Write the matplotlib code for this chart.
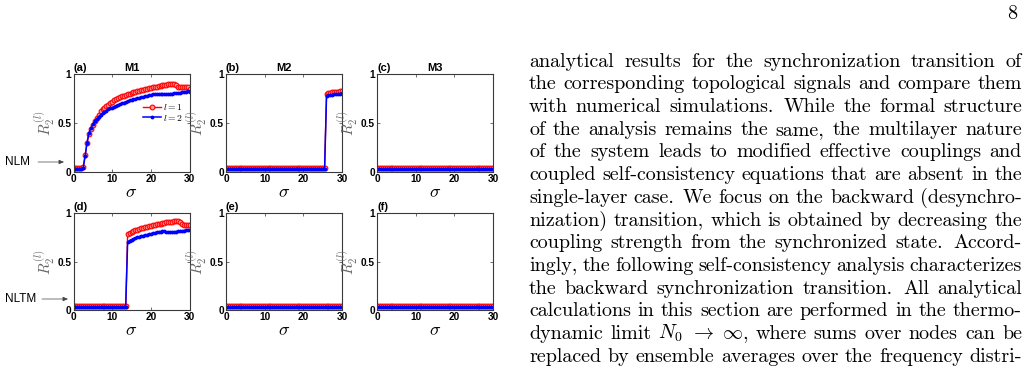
import numpy as np
import matplotlib
matplotlib.use('Agg')
import matplotlib.pyplot as plt

plt.rcParams['mathtext.fontset'] = 'cm'
plt.rcParams['font.family'] = ['Liberation Sans', 'DejaVu Sans']

# ---------------- data ----------------
sigma = [0.0, 0.5, 1.0, 1.5, 2.0, 2.5, 3.0, 3.5, 4.0, 4.5,
         5.0, 5.5, 6.0, 6.5, 7.0, 7.5, 8.0, 8.5, 9.0, 9.5,
         10.0, 10.5, 11.0, 11.5, 12.0, 12.5, 13.0, 13.5, 14.0, 14.5,
         15.0, 15.5, 16.0, 16.5, 17.0, 17.5, 18.0, 18.5, 19.0, 19.5,
         20.0, 20.5, 21.0, 21.5, 22.0, 22.5, 23.0, 23.5, 24.0, 24.5,
         25.0, 25.5, 26.0, 26.5, 27.0, 27.5, 28.0, 28.5, 29.0, 29.5,
         30.0]

nlm_m1_l1 = [0.04, 0.04, 0.04, 0.04, 0.04, 0.05, 0.17, 0.30, 0.39, 0.44,
             0.48, 0.52, 0.55, 0.585, 0.62, 0.64, 0.66, 0.675, 0.69, 0.705,
             0.72, 0.733, 0.745, 0.755, 0.765, 0.773, 0.78, 0.788, 0.795, 0.803,
             0.81, 0.815, 0.82, 0.825, 0.83, 0.835, 0.84, 0.845, 0.85, 0.855,
             0.86, 0.865, 0.87, 0.875, 0.88, 0.885, 0.89, 0.892, 0.895, 0.898,
             0.90, 0.90, 0.90, 0.895, 0.875, 0.87, 0.87, 0.87, 0.868, 0.865,
             0.85]
nlm_m1_l2 = [0.035, 0.035, 0.035, 0.035, 0.035, 0.04, 0.16, 0.30, 0.40, 0.45,
             0.49, 0.52, 0.545, 0.565, 0.585, 0.60, 0.615, 0.628, 0.64, 0.65,
             0.66, 0.67, 0.68, 0.688, 0.695, 0.703, 0.71, 0.718, 0.725, 0.733,
             0.74, 0.745, 0.75, 0.755, 0.76, 0.765, 0.77, 0.775, 0.78, 0.785,
             0.79, 0.795, 0.80, 0.795, 0.795, 0.795, 0.797, 0.798, 0.80, 0.80,
             0.802, 0.803, 0.805, 0.807, 0.81, 0.812, 0.815, 0.818, 0.822, 0.828,
             0.815]
nlm_m2_l1 = [0.04, 0.04, 0.04, 0.04, 0.04, 0.04, 0.04, 0.04, 0.04, 0.04,
             0.04, 0.04, 0.04, 0.04, 0.04, 0.04, 0.04, 0.04, 0.04, 0.04,
             0.04, 0.04, 0.04, 0.04, 0.04, 0.04, 0.04, 0.04, 0.04, 0.04,
             0.04, 0.04, 0.04, 0.04, 0.04, 0.04, 0.04, 0.04, 0.04, 0.04,
             0.04, 0.04, 0.04, 0.04, 0.04, 0.04, 0.04, 0.04, 0.04, 0.04,
             0.04, 0.04, 0.80, 0.805, 0.81, 0.815, 0.818, 0.82, 0.823, 0.826,
             0.83]
nlm_m2_l2 = [0.035, 0.035, 0.035, 0.035, 0.035, 0.035, 0.035, 0.035, 0.035, 0.035,
             0.035, 0.035, 0.035, 0.035, 0.035, 0.035, 0.035, 0.035, 0.035, 0.035,
             0.035, 0.035, 0.035, 0.035, 0.035, 0.035, 0.035, 0.035, 0.035, 0.035,
             0.035, 0.035, 0.035, 0.035, 0.035, 0.035, 0.035, 0.035, 0.035, 0.035,
             0.035, 0.035, 0.035, 0.035, 0.035, 0.035, 0.035, 0.035, 0.035, 0.035,
             0.035, 0.035, 0.78, 0.785, 0.79, 0.793, 0.796, 0.798, 0.80, 0.802,
             0.805]
nlm_m3_l1 = [0.04, 0.04, 0.04, 0.04, 0.04, 0.04, 0.04, 0.04, 0.04, 0.04,
             0.04, 0.04, 0.04, 0.04, 0.04, 0.04, 0.04, 0.04, 0.04, 0.04,
             0.04, 0.04, 0.04, 0.04, 0.04, 0.04, 0.04, 0.04, 0.04, 0.04,
             0.04, 0.04, 0.04, 0.04, 0.04, 0.04, 0.04, 0.04, 0.04, 0.04,
             0.04, 0.04, 0.04, 0.04, 0.04, 0.04, 0.04, 0.04, 0.04, 0.04,
             0.04, 0.04, 0.04, 0.04, 0.04, 0.04, 0.04, 0.04, 0.04, 0.04,
             0.04]
nlm_m3_l2 = [0.035, 0.035, 0.035, 0.035, 0.035, 0.035, 0.035, 0.035, 0.035, 0.035,
             0.035, 0.035, 0.035, 0.035, 0.035, 0.035, 0.035, 0.035, 0.035, 0.035,
             0.035, 0.035, 0.035, 0.035, 0.035, 0.035, 0.035, 0.035, 0.035, 0.035,
             0.035, 0.035, 0.035, 0.035, 0.035, 0.035, 0.035, 0.035, 0.035, 0.035,
             0.035, 0.035, 0.035, 0.035, 0.035, 0.035, 0.035, 0.035, 0.035, 0.035,
             0.035, 0.035, 0.035, 0.035, 0.035, 0.035, 0.035, 0.035, 0.035, 0.035,
             0.035]
nltm_m1_l1 = [0.04, 0.04, 0.04, 0.04, 0.04, 0.04, 0.04, 0.04, 0.04, 0.04,
              0.04, 0.04, 0.04, 0.04, 0.04, 0.04, 0.04, 0.04, 0.04, 0.04,
              0.04, 0.04, 0.04, 0.04, 0.04, 0.04, 0.04, 0.04, 0.78, 0.79,
              0.80, 0.81, 0.82, 0.828, 0.835, 0.84, 0.845, 0.85, 0.855, 0.86,
              0.865, 0.87, 0.875, 0.88, 0.885, 0.887, 0.89, 0.895, 0.90, 0.902,
              0.905, 0.907, 0.91, 0.912, 0.915, 0.905, 0.88, 0.875, 0.872, 0.87,
              0.87]
nltm_m1_l2 = [0.035, 0.035, 0.035, 0.035, 0.035, 0.035, 0.035, 0.035, 0.035, 0.035,
              0.035, 0.035, 0.035, 0.035, 0.035, 0.035, 0.035, 0.035, 0.035, 0.035,
              0.035, 0.035, 0.035, 0.035, 0.035, 0.035, 0.035, 0.035, 0.70, 0.715,
              0.725, 0.733, 0.74, 0.748, 0.755, 0.76, 0.765, 0.77, 0.775, 0.78,
              0.785, 0.79, 0.795, 0.80, 0.805, 0.807, 0.81, 0.815, 0.80, 0.80,
              0.80, 0.802, 0.805, 0.807, 0.81, 0.812, 0.815, 0.817, 0.82, 0.822,
              0.825]
nltm_m2_l1 = list(nlm_m3_l1)
nltm_m2_l2 = list(nlm_m3_l2)
nltm_m3_l1 = list(nlm_m3_l1)
nltm_m3_l2 = list(nlm_m3_l2)

panel_tags = ['(a)', '(b)', '(c)', '(d)', '(e)', '(f)']
panel_titles = ['M1', 'M2', 'M3', '', '', '']
series_l1 = [nlm_m1_l1, nlm_m2_l1, nlm_m3_l1, nltm_m1_l1, nltm_m2_l1, nltm_m3_l1]
series_l2 = [nlm_m1_l2, nlm_m2_l2, nlm_m3_l2, nltm_m1_l2, nltm_m2_l2, nltm_m3_l2]
legend_labels = [r'$l=1$', r'$l=2$']
xticks = [0, 10, 20, 30]
xtick_labels = ['0', '10', '20', '30']
yticks = [0, 0.5, 1]
ytick_labels = ['0', '0.5', '1']
row_labels = ['NLM', 'NLTM']

paragraph = [
    "analytical results for the synchronization transition of",
    "the corresponding topological signals and compare them",
    "with numerical simulations.  While the formal structure",
    "of the analysis remains the same, the multilayer nature",
    "of the system leads to modified effective couplings and",
    "coupled self-consistency equations that are absent in the",
    "single-layer case.  We focus on the backward (desynchro-",
    "nization) transition, which is obtained by decreasing the",
    "coupling strength from the synchronized state.  Accord-",
    "ingly, the following self-consistency analysis characterizes",
    "the backward synchronization transition.  All analytical",
    "calculations in this section are performed in the thermo-",
    r"dynamic limit $N_0$ $\to$ $\infty$, where sums over nodes can be",
    "replaced by ensemble averages over the frequency distri-",
]
page_number = '8'

# ---------------- figure ----------------
W, H = 1027, 373
fig = plt.figure(figsize=(W / 100, H / 100), dpi=100)

def fx(px):
    return px / W

def fy(py):
    return 1 - py / H

col_left = [73.5, 226.0, 377.0]
row_top = [74.3, 212.7]
ax_w, ax_h = 116.0, 97.7

axes = []
for i in range(6):
    r, c = divmod(i, 3)
    ax = fig.add_axes([fx(col_left[c]), fy(row_top[r] + ax_h), ax_w / W, ax_h / H])
    axes.append(ax)
    ax.plot(sigma, series_l1[i], '-', color='red', lw=1.0, marker='o', ms=3.4,
            mfc='#ff9a9a', mec='red', mew=0.8, label=legend_labels[0])
    ax.plot(sigma, series_l2[i], '-', color='blue', lw=1.1, marker='.', ms=3.5,
            mfc='blue', mec='blue', label=legend_labels[1])
    ax.set_xlim(0, 30)
    ax.set_ylim(0, 1)
    ax.set_xticks(xticks)
    ax.set_xticklabels(xtick_labels, fontweight='bold', fontsize=7.3)
    ax.set_yticks(yticks)
    ax.set_yticklabels(ytick_labels, fontweight='bold', fontsize=7.3)
    ax.tick_params(direction='in', length=2, width=0.6, top=True, right=True,
                   color='#555555', pad=1.5)
    for sp in ax.spines.values():
        sp.set_color('#3a3a3a')
        sp.set_linewidth(0.8)
    ax.set_xlabel(r'$\sigma$', fontsize=13, labelpad=0)
    ax.set_ylabel(r'$R_2^{(l)}$', fontsize=11, color='#666666', labelpad=0)
    ax.yaxis.label.set_va('center')
    ax.yaxis.set_label_coords(-0.25, 0.5)
    ax.text(0.0, 1.01, panel_tags[i], transform=ax.transAxes, fontsize=8,
            fontweight='bold', ha='left', va='bottom')
    if panel_titles[i]:
        ax.text(0.5, 1.01, panel_titles[i], transform=ax.transAxes, fontsize=8,
                fontweight='bold', ha='center', va='bottom')

leg = axes[0].legend(loc='center left', bbox_to_anchor=(0.6, 0.61), frameon=False,
                     fontsize=7, handlelength=1.8, handletextpad=0.25,
                     labelspacing=0.05, borderpad=0, borderaxespad=0)

# row labels with arrows
for lab, ypx, x_txt, x_tail, x_head in [(row_labels[0], 162, 5, 38, 64),
                                         (row_labels[1], 299, 5, 42, 68)]:
    fig.text(fx(x_txt), fy(ypx), lab, fontsize=8.5, ha='left', va='center')
    fig.add_artist(matplotlib.patches.FancyArrowPatch(
        (fx(x_tail), fy(ypx)), (fx(x_head), fy(ypx)), transform=fig.transFigure,
        arrowstyle='-|>,head_length=3,head_width=1.3', color='#444444', lw=0.5,
        mutation_scale=1, shrinkA=0, shrinkB=0))

# ---------------- justified paragraph ----------------
renderer = fig.canvas.get_renderer()
x0, x1 = 529.0, 1022.0
base0, step = 66.7, 22.69

def measure(s, fs):
    t = fig.text(0, 0, s, fontsize=fs, family='cmr10')
    w = t.get_window_extent(renderer).width
    t.remove()
    return w

fs0 = 12.0
nat = [measure(' '.join(line.split()), fs0) for line in paragraph]
fs = fs0 * (x1 - x0) / np.mean(nat) * 0.995

for k, line in enumerate(paragraph):
    words = line.split()
    texts = [fig.text(0, 0, w, fontsize=fs, family='cmr10', va='baseline', ha='left')
             for w in words]
    widths = [t.get_window_extent(renderer).width for t in texts]
    weights = [1.35 if w.endswith('.') else 1.0 for w in words[:-1]]
    gap = (x1 - x0 - sum(widths)) / sum(weights)
    x = x0
    ybase = base0 + step * k
    for j, t in enumerate(texts):
        t.set_position((fx(x), fy(ybase)))
        if j < len(weights):
            x += widths[j] + gap * weights[j]

fig.text(fx(1017), fy(19), page_number, fontsize=fs, family='cmr10',
         ha='right', va='baseline')

fig.savefig('out.png', dpi=100)
